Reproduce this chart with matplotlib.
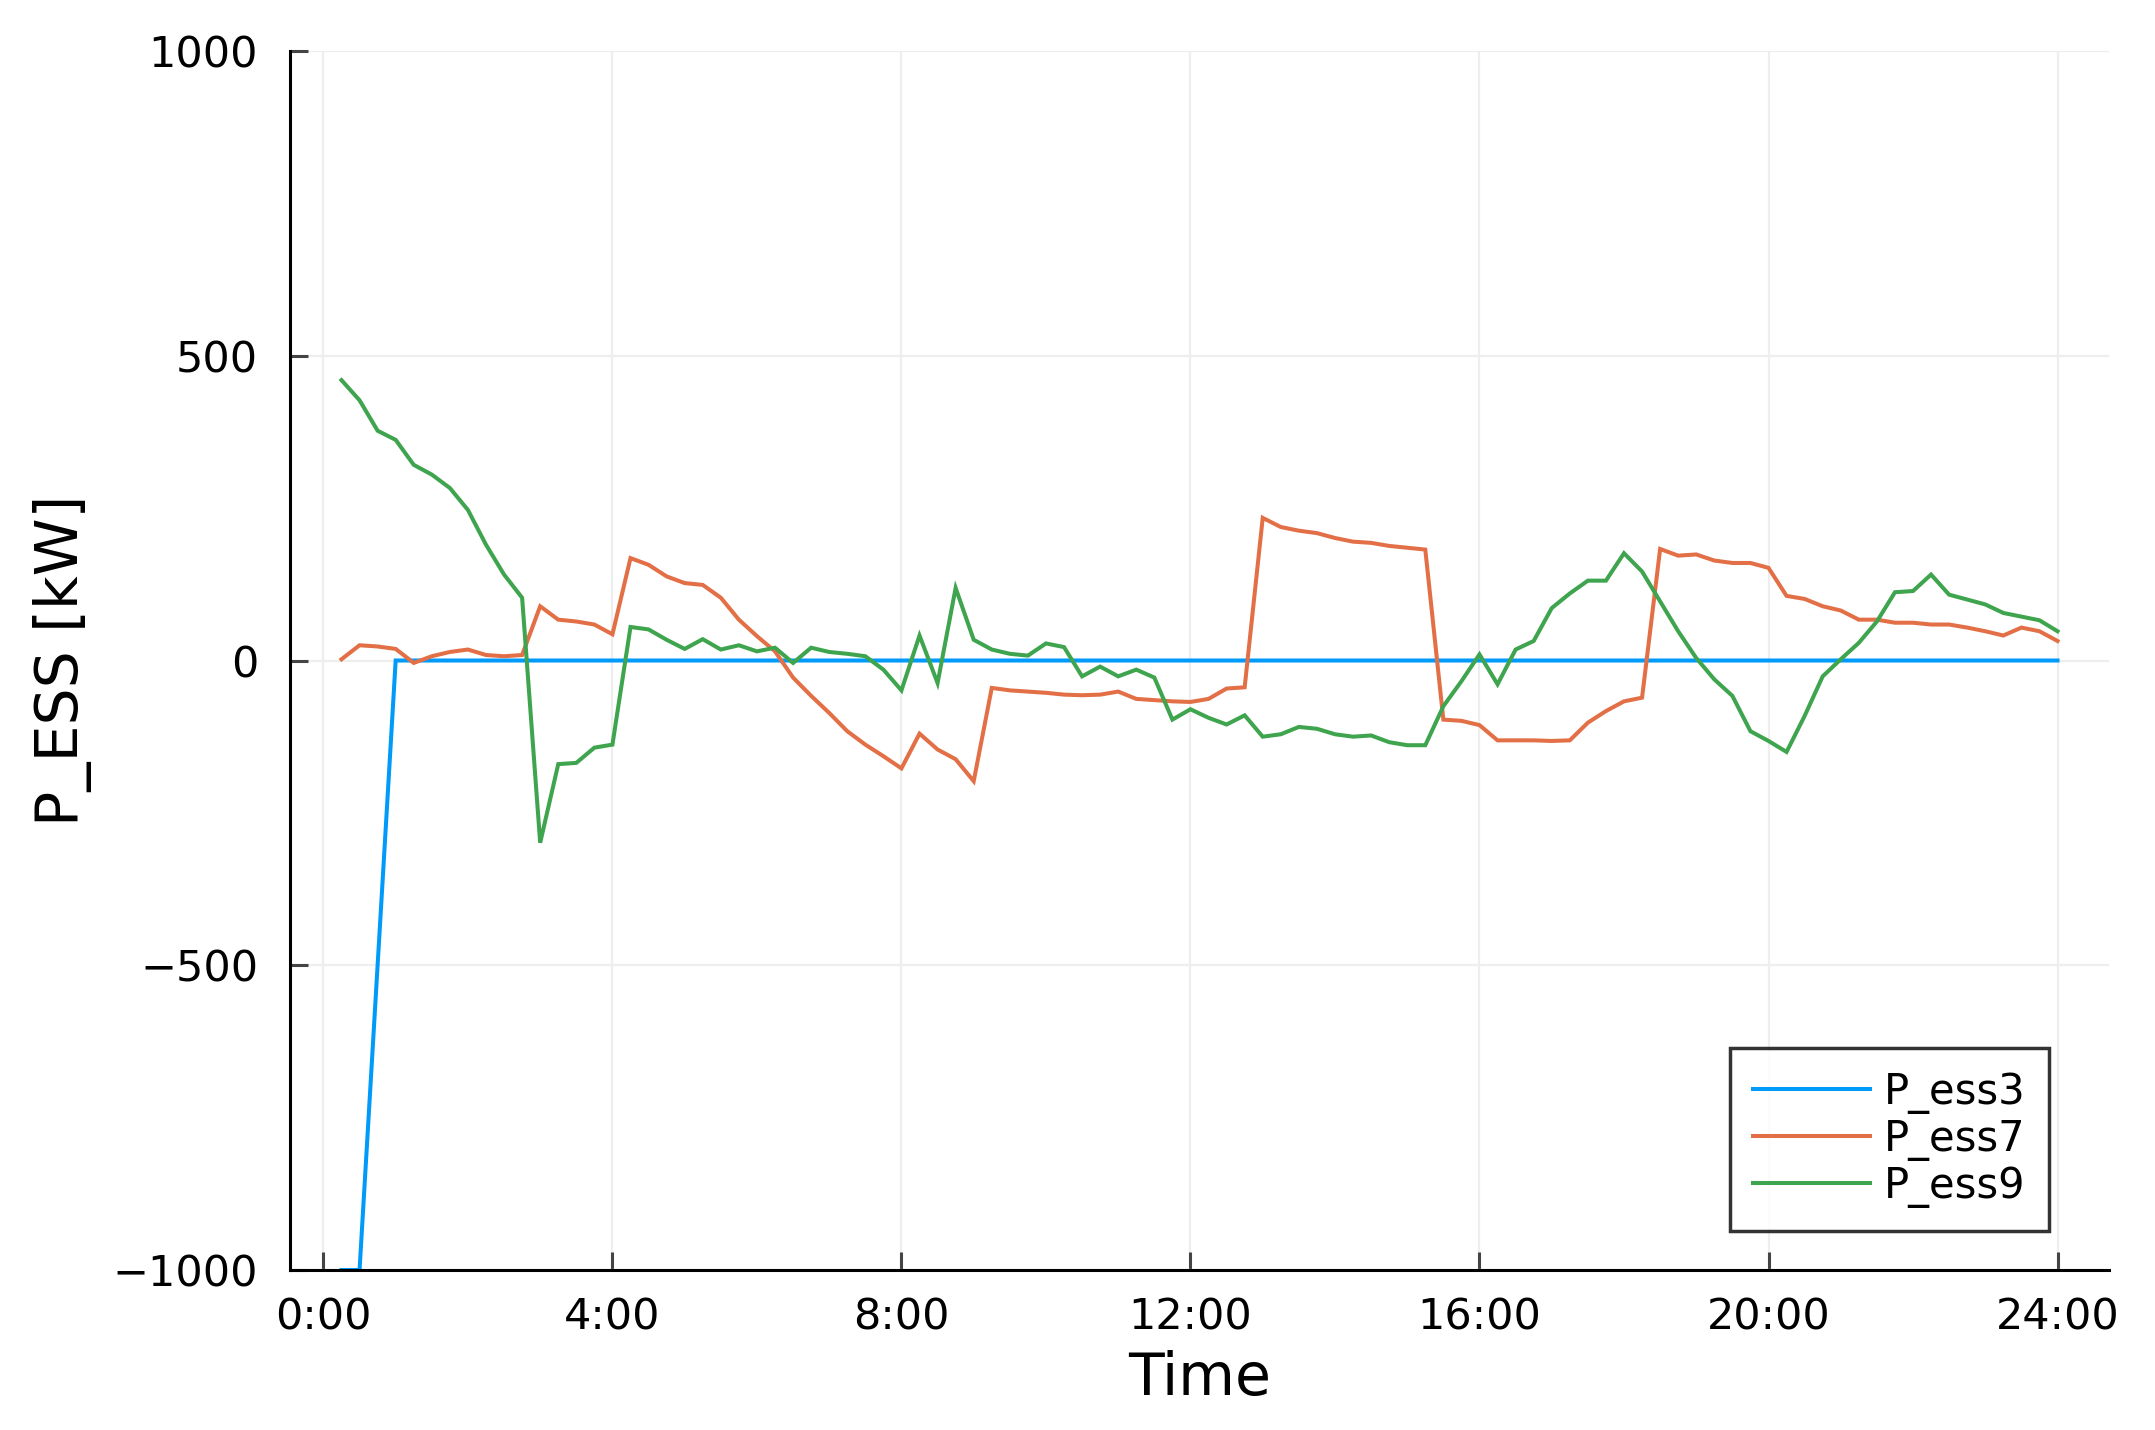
import numpy as np
import matplotlib
matplotlib.use("Agg")
import matplotlib.pyplot as plt

# Time stamps: every 15 minutes from 0:15 to 24:00 (hours)
time_h = np.arange(1, 97) * 0.25

p_ess3 = [-1000, -1000, -500] + [0] * 93

p_ess7 = [2, 25, 23, 19, -4, 7, 14, 18, 9, 7, 9, 89, 67, 64, 59, 43,
          168, 157, 138, 127, 124, 103, 67, 40, 15, -28, -58, -86, -116, -138, -157, -177,
          -120, -146, -162, -198, -45, -49, -51, -53, -56, -57, -56, -51, -63, -65, -67, -68,
          -63, -46, -44, 234, 219, 213, 209, 201, 195, 193, 188, 185, 182, -97, -99, -106,
          -131, -131, -131, -132, -131, -102, -83, -67, -61, 183, 172, 174, 164, 160, 160, 152,
          106, 101, 89, 82, 67, 67, 62, 62, 59, 59, 54, 48, 41, 54, 48, 32]

p_ess9 = [460, 427, 377, 362, 321, 305, 283, 247, 190, 141, 103, -299, -170, -168, -143, -138,
          55, 51, 34, 19, 35, 18, 25, 15, 21, -4, 21, 14, 11, 7, -15, -49,
          41, -37, 119, 34, 18, 11, 8, 28, 22, -26, -10, -26, -15, -28, -97, -80,
          -94, -105, -90, -125, -121, -109, -112, -121, -125, -123, -134, -139, -139, -75,
          -34, 10, -39, 18, 32, 86, 110, 131, 131, 176, 146, 97, 48, 4, -31, -58, -116, -132,
          -150, -91, -26, 2, 29, 64, 112, 114, 141, 108, 100, 92, 78, 72, 66, 48]

series_names = ["P_ess3", "P_ess7", "P_ess9"]
colors = ["#009AFA", "#E36F47", "#3EA44E"]

xtick_pos = [0, 4, 8, 12, 16, 20, 24]
xtick_labels = ["0:00", "4:00", "8:00", "12:00", "16:00", "20:00", "24:00"]
ytick_pos = [-1000, -500, 0, 500, 1000]
ytick_labels = ["\u22121000", "\u2212500", "0", "500", "1000"]

plt.rcParams['font.family'] = ['DejaVu Sans']

fig = plt.figure(figsize=(21.55, 14.30), dpi=100)
ax = fig.add_axes([290 / 2155, 1 - 1270 / 1430, (2109 - 290) / 2155, (1270 - 51) / 1430])

for vals, name, c in zip([p_ess3, p_ess7, p_ess9], series_names, colors):
    ax.plot(time_h, vals, color=c, lw=2.9, label=name, solid_joinstyle='miter')

ax.set_xlim(0.25 - 0.0300 * 23.75, 24 + 0.0300 * 23.75)
ax.set_ylim(-1000, 1000)
ax.set_xticks(xtick_pos)
ax.set_xticklabels(xtick_labels)
ax.set_yticks(ytick_pos)
ax.set_yticklabels(ytick_labels)

ax.grid(True, color='#eeeeee', lw=1.6)
ax.set_axisbelow(True)
for s in ['top', 'right']:
    ax.spines[s].set_visible(False)
for s in ['left', 'bottom']:
    ax.spines[s].set_linewidth(2.2)
    ax.spines[s].set_color('black')

ax.tick_params(axis='both', direction='in', length=13, width=2.2, color='#444444',
               labelsize=31, labelcolor='black')
ax.tick_params(axis='y', pad=23)
ax.tick_params(axis='x', pad=19)

ax.set_xlabel("Time", fontsize=42)
ax.set_ylabel("P_ESS [kW]", fontsize=42)
ax.xaxis.set_label_coords(0.5, -0.089)
ax.xaxis.label.set_va('center')
ax.yaxis.set_label_coords(-0.125, 0.5)
ax.yaxis.label.set_va('center')

leg = ax.legend(loc='lower right', bbox_to_anchor=(0.967, 0.032), borderaxespad=0,
                fontsize=30, frameon=True, fancybox=False, edgecolor='black',
                handlelength=2.8, handletextpad=0.35, labelspacing=0.1, borderpad=0.55)
leg.get_frame().set_linewidth(2.5)

fig.savefig("out.png", dpi=100, facecolor='white')
